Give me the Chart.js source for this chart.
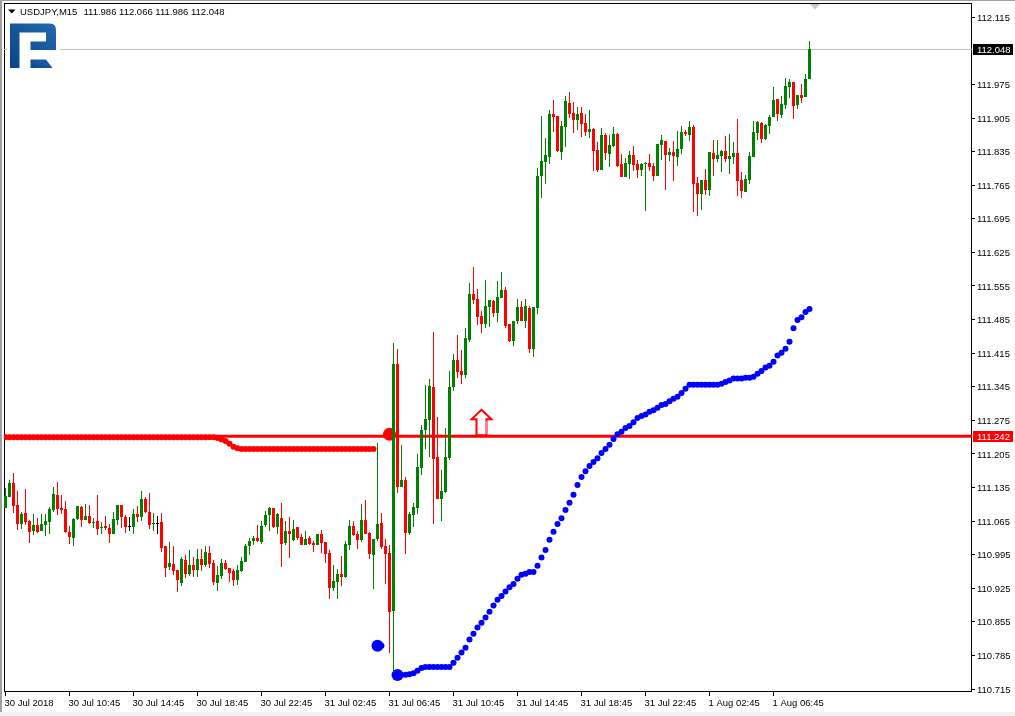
<!DOCTYPE html>
<html>
<head>
<meta charset="utf-8">
<title>USDJPY,M15</title>
<script src="https://cdn.jsdelivr.net/npm/chart.js@4/dist/chart.umd.min.js"></script>
<style>
  html, body { margin: 0; padding: 0; background: #fff; overflow: hidden; }
  #wrap { position: relative; width: 1015px; height: 716px; }
  canvas { position: absolute; left: 0; top: 0; }
  .edge { position: absolute; }
  #logo { position: absolute; left: 0; top: 0; }
</style>
</head>
<body>
<div id="wrap">
  <canvas id="chart" width="1015" height="716"></canvas>
  <div class="edge" style="left:0;top:0;width:2px;height:716px;background:#a0a0a0"></div>
  <div class="edge" style="left:0;top:0;width:1015px;height:1px;background:#a0a0a0"></div>
  <div class="edge" style="left:0;top:712px;width:1015px;height:4px;background:#f0f0f0"></div>
  <svg id="logo" width="70" height="80">
    <defs>
      <linearGradient id="logoBlue" x1="1" y1="0" x2="0" y2="1">
        <stop offset="0" stop-color="#2468ae"/>
        <stop offset="1" stop-color="#0a4488"/>
      </linearGradient>
    </defs>
    <rect x="7" y="20" width="53" height="50" fill="#fff"/>
    <path fill="url(#logoBlue)" d="M10 23.5H50Q56 23.5 56 30V50H30.5V41.5H46V32.5H19.5V68H10Z"/>
    <path fill="url(#logoBlue)" d="M30.5 59.5H46L52.5 68H30.5Z"/>
  </svg>
</div>
<script>
const symbolTitle = "USDJPY,M15";
const titleValues = "111.986 112.066 111.986 112.048";

const opens = [
  111.092,111.115,111.145,111.099,111.059,111.082,111.065,111.044,111.057,111.044,
  111.057,111.063,111.088,111.120,111.092,111.090,111.042,111.030,111.069,111.094,
  111.067,111.076,111.061,111.065,111.050,111.055,111.050,111.038,111.067,111.099,
  111.074,111.054,111.053,111.080,111.074,111.111,111.084,111.059,111.062,111.063,
  111.013,110.969,110.975,110.963,110.936,110.984,110.955,110.973,110.963,110.986,
  110.973,110.999,110.978,110.936,110.951,110.978,110.967,110.961,110.942,110.961,
  110.980,111.013,111.024,111.030,111.022,111.057,111.078,111.092,111.053,111.071,
  111.020,111.044,111.026,111.053,111.032,111.015,111.030,111.020,111.015,111.038,
  111.022,110.999,110.925,110.938,110.955,110.948,111.015,111.055,111.038,111.026,
  111.067,111.040,110.994,111.028,111.061,111.013,110.999,110.877,111.392,111.136,
  111.151,111.040,111.078,111.092,111.176,111.255,111.276,111.344,111.198,111.111,
  111.126,111.196,111.344,111.401,111.378,111.369,111.442,111.538,111.528,111.492,
  111.476,111.511,111.524,111.499,111.530,111.547,111.476,111.440,111.482,111.511,
  111.482,111.509,111.424,111.509,111.784,111.813,111.824,111.913,111.909,111.834,
  111.886,111.936,111.915,111.901,111.915,111.895,111.876,111.882,111.838,111.797,
  111.870,111.830,111.847,111.872,111.809,111.782,111.809,111.828,111.809,111.797,
  111.809,111.811,111.805,111.784,111.849,111.857,111.828,111.834,111.824,111.840,
  111.876,111.870,111.886,111.770,111.747,111.776,111.755,111.832,111.820,111.826,
  111.836,111.820,111.824,111.832,111.776,111.751,111.776,111.824,111.874,111.895,
  111.861,111.888,111.907,111.945,111.911,111.932,111.970,111.980,111.932,111.953,
  111.949,111.986
];
const highs = [
  111.134,111.151,111.165,111.128,111.084,111.132,111.067,111.080,111.071,111.080,
  111.080,111.094,111.136,111.147,111.120,111.107,111.055,111.071,111.096,111.096,
  111.101,111.099,111.071,111.120,111.063,111.076,111.059,111.084,111.099,111.099,
  111.078,111.074,111.090,111.096,111.128,111.115,111.124,111.082,111.076,111.082,
  111.013,111.022,111.013,110.963,110.990,110.994,111.005,110.990,111.007,111.007,
  111.013,111.013,110.984,110.971,110.986,110.984,110.967,110.965,110.973,110.990,
  111.018,111.030,111.034,111.057,111.065,111.086,111.094,111.092,111.082,111.103,
  111.065,111.074,111.067,111.053,111.038,111.044,111.034,111.024,111.038,111.046,
  111.022,111.005,110.973,110.965,110.992,111.024,111.067,111.065,111.044,111.101,
  111.109,111.042,111.028,111.228,111.082,111.028,111.015,111.436,111.424,111.224,
  111.157,111.084,111.103,111.205,111.265,111.349,111.361,111.459,111.282,111.171,
  111.259,111.378,111.413,111.453,111.422,111.467,111.561,111.595,111.549,111.503,
  111.567,111.526,111.526,111.565,111.584,111.553,111.476,111.482,111.528,111.524,
  111.528,111.513,111.511,111.801,111.909,111.863,111.922,111.943,111.909,111.899,
  111.951,111.959,111.938,111.928,111.928,111.913,111.922,111.884,111.855,111.884,
  111.874,111.870,111.886,111.874,111.830,111.822,111.836,111.847,111.818,111.811,
  111.813,111.830,111.811,111.851,111.870,111.857,111.842,111.857,111.878,111.888,
  111.880,111.899,111.890,111.782,111.776,111.799,111.834,111.859,111.859,111.838,
  111.868,111.872,111.855,111.903,111.793,111.786,111.834,111.899,111.899,111.897,
  111.893,111.911,111.970,111.945,111.951,111.988,111.986,111.980,111.953,111.976,
  111.997,112.066
];
const lows = [
  111.092,111.115,111.082,111.046,111.048,111.057,111.020,111.036,111.040,111.044,
  111.034,111.038,111.084,111.078,111.080,111.040,111.018,111.013,111.067,111.053,
  111.067,111.059,111.050,111.036,111.038,111.046,111.020,111.038,111.057,111.050,
  111.040,111.044,111.038,111.063,111.065,111.082,111.048,111.044,111.038,111.001,
  110.948,110.963,110.953,110.917,110.930,110.947,110.951,110.948,110.948,110.961,
  110.969,110.967,110.932,110.919,110.944,110.963,110.938,110.930,110.932,110.959,
  110.980,110.994,111.015,111.022,111.018,111.053,111.044,111.050,111.038,110.969,
  111.015,110.988,111.024,111.026,111.015,111.015,111.015,111.001,111.015,110.999,
  110.978,110.902,110.919,110.902,110.930,110.946,111.005,111.034,111.007,111.022,
  111.038,110.986,110.923,111.024,111.007,110.934,110.790,110.750,111.124,111.136,
  110.996,111.036,111.053,111.080,111.161,111.215,111.198,111.059,111.111,111.065,
  111.124,111.192,111.336,111.363,111.351,111.363,111.438,111.517,111.474,111.457,
  111.467,111.469,111.490,111.480,111.530,111.467,111.438,111.430,111.476,111.482,
  111.467,111.415,111.407,111.497,111.738,111.768,111.809,111.876,111.834,111.818,
  111.845,111.905,111.874,111.880,111.865,111.868,111.863,111.795,111.793,111.797,
  111.818,111.803,111.845,111.803,111.782,111.782,111.778,111.795,111.780,111.784,
  111.711,111.795,111.774,111.784,111.818,111.755,111.815,111.774,111.805,111.830,
  111.868,111.857,111.709,111.701,111.713,111.745,111.743,111.784,111.813,111.793,
  111.813,111.788,111.809,111.743,111.738,111.751,111.767,111.824,111.859,111.853,
  111.859,111.872,111.907,111.899,111.905,111.924,111.947,111.903,111.924,111.936,
  111.949,111.986
];
const closes = [
  111.117,111.145,111.096,111.059,111.080,111.063,111.042,111.057,111.042,111.059,
  111.065,111.090,111.122,111.090,111.088,111.042,111.032,111.069,111.096,111.067,
  111.076,111.061,111.063,111.048,111.053,111.050,111.038,111.069,111.099,111.074,
  111.053,111.054,111.080,111.074,111.111,111.084,111.057,111.061,111.062,111.009,
  110.967,110.978,110.961,110.942,110.986,110.955,110.973,110.963,110.986,110.973,
  111.001,110.975,110.938,110.953,110.978,110.965,110.957,110.942,110.963,110.982,
  111.013,111.024,111.030,111.024,111.055,111.078,111.092,111.053,111.080,111.018,
  111.044,111.038,111.048,111.030,111.015,111.028,111.018,111.015,111.038,111.020,
  110.996,110.925,110.940,110.955,110.948,111.018,111.055,111.036,111.026,111.067,
  111.038,110.996,111.028,111.059,111.011,110.996,110.875,111.392,111.136,111.151,
  111.040,111.080,111.094,111.178,111.255,111.278,111.347,111.194,111.111,111.128,
  111.198,111.344,111.401,111.376,111.369,111.447,111.538,111.526,111.490,111.476,
  111.513,111.526,111.499,111.532,111.547,111.472,111.440,111.482,111.511,111.482,
  111.513,111.424,111.511,111.784,111.815,111.828,111.913,111.907,111.836,111.888,
  111.941,111.913,111.901,111.913,111.892,111.876,111.882,111.836,111.797,111.870,
  111.832,111.849,111.872,111.805,111.782,111.811,111.828,111.807,111.797,111.809,
  111.811,111.803,111.784,111.851,111.859,111.828,111.834,111.826,111.840,111.876,
  111.872,111.886,111.767,111.747,111.776,111.755,111.834,111.820,111.828,111.836,
  111.820,111.826,111.832,111.774,111.753,111.778,111.826,111.876,111.897,111.861,
  111.890,111.907,111.943,111.913,111.934,111.972,111.980,111.930,111.953,111.947,
  111.986,112.048
];

// red indicator: bars 0-92, then the single big point
const redDots = [
  111.240,111.240,111.240,111.240,111.240,111.240,111.240,111.240,111.240,111.240,
  111.240,111.240,111.240,111.240,111.240,111.240,111.240,111.240,111.240,111.240,
  111.240,111.240,111.240,111.240,111.240,111.240,111.240,111.240,111.240,111.240,
  111.240,111.240,111.240,111.240,111.240,111.240,111.240,111.240,111.240,111.240,
  111.240,111.240,111.240,111.240,111.240,111.240,111.240,111.240,111.240,111.240,
  111.240,111.240,111.240,111.238,111.235,111.232,111.226,111.220,111.217,111.215,
  111.215,111.215,111.215,111.215,111.215,111.215,111.215,111.215,111.215,111.215,
  111.215,111.215,111.215,111.215,111.215,111.215,111.215,111.215,111.215,111.215,
  111.215,111.215,111.215,111.215,111.215,111.215,111.215,111.215,111.215,111.215,
  111.215,111.215,111.215
];
const redBigIndex = 96;
const redBigValue = 111.246;

// blue indicator: first pair starts at bar 93, main run at bar 98
const blueFirstIndex = 93;
const blueFirst = [110.805, 110.805];
const blueStartIndex = 98;
const blueDots = [
  110.744,110.744,110.745,110.746,110.748,110.753,110.759,110.761,110.761,110.761,
  110.761,110.761,110.761,110.761,110.770,110.780,110.791,110.801,110.818,110.830,
  110.843,110.853,110.864,110.876,110.889,110.901,110.909,110.918,110.927,110.934,
  110.945,110.953,110.955,110.959,110.959,110.972,110.989,111.005,111.026,111.043,
  111.059,111.071,111.088,111.103,111.120,111.140,111.157,111.169,111.180,111.188,
  111.196,111.207,111.215,111.224,111.236,111.246,111.251,111.259,111.263,111.271,
  111.280,111.284,111.287,111.293,111.296,111.301,111.307,111.309,111.315,111.320,
  111.324,111.332,111.341,111.349,111.349,111.349,111.349,111.349,111.349,111.349,
  111.349,111.351,111.355,111.358,111.362,111.362,111.362,111.364,111.364,111.366,
  111.372,111.378,111.385,111.389,111.397,111.410,111.416,111.424,111.439,111.467,
  111.484,111.490,111.501,111.507
];

const bidLevel = 112.048;
const signalLevel = 111.242;
const arrowIndex = 119;
const arrowTip = 111.299;

const priceTicks = [
  112.115,111.975,111.905,111.835,111.765,111.695,111.625,111.555,111.485,111.415,
  111.345,111.275,111.205,111.135,111.065,110.995,110.925,110.855,110.785,110.715
];
const timeTickStep = 16;
const timeTicks = [
  "30 Jul 2018","30 Jul 10:45","30 Jul 14:45","30 Jul 18:45","30 Jul 22:45",
  "31 Jul 02:45","31 Jul 06:45","31 Jul 10:45","31 Jul 14:45","31 Jul 18:45",
  "31 Jul 22:45","1 Aug 02:45","1 Aug 06:45"
];

const FONT = '"Liberation Sans", Arial, sans-serif';
const FONT_SIZE = 9.5;

function candleColor(i) {
  if (closes[i] > opens[i]) return "#008000";
  if (closes[i] < opens[i]) return "#ff0000";
  return "#000000";
}

const colors = closes.map((c, i) => candleColor(i));

// MT4 draws candles on whole pixels, so round the bar ends after layout
const snapBars = {
  id: "snapBars",
  afterDatasetsUpdate(chart) {
    chart.data.datasets.forEach((ds, n) => {
      if (ds.type !== "bar") return;
      chart.getDatasetMeta(n).data.forEach((el) => {
        el.y = Math.round(el.y);
        el.base = Math.round(el.base);
        if (el.y === el.base) el.base = el.y + 1;
      });
    });
  },
};

// labels must not push the plot area in
function noMargins(axis) {
  axis.paddingLeft = 0;
  axis.paddingRight = 0;
  axis.paddingTop = 0;
  axis.paddingBottom = 0;
}

const frame = {
  id: "frame",
  beforeDatasetsDraw(chart) {
    const { ctx, chartArea: a } = chart;
    ctx.save();
    ctx.strokeStyle = "#000";
    ctx.lineWidth = 1;
    ctx.strokeRect(a.left + 0.5, a.top + 0.5, a.right - a.left - 1, a.bottom - a.top - 1);
    ctx.restore();
  },
  afterDatasetsDraw(chart) {
    const { ctx, scales } = chart;
    const ax = scales.x.getPixelForValue(arrowIndex);
    const ay = scales.y.getPixelForValue(arrowTip);
    ctx.save();
    // signal arrow
    ctx.beginPath();
    ctx.moveTo(ax, ay + 1);
    ctx.lineTo(ax + 10, ay + 10.5);
    ctx.lineTo(ax + 5, ay + 10.5);
    ctx.lineTo(ax + 5, ay + 26.5);
    ctx.lineTo(ax - 5, ay + 26.5);
    ctx.lineTo(ax - 5, ay + 10.5);
    ctx.lineTo(ax - 10, ay + 10.5);
    ctx.closePath();
    ctx.fillStyle = "#fff";
    ctx.fill();
    ctx.strokeStyle = "#ff0000";
    ctx.lineWidth = 2;
    ctx.stroke();
    ctx.strokeStyle = "#ff7fb0";
    ctx.lineWidth = 1.6;
    ctx.beginPath();
    ctx.moveTo(ax + 5, ay + 12);
    ctx.lineTo(ax + 5, ay + 25);
    ctx.stroke();

    // chart shift marker
    ctx.fillStyle = "#c8c8c8";
    ctx.beginPath();
    ctx.moveTo(810, 4);
    ctx.lineTo(820, 4);
    ctx.lineTo(815, 9.5);
    ctx.closePath();
    ctx.fill();

    // header
    ctx.fillStyle = "#000";
    ctx.beginPath();
    ctx.moveTo(8, 9.5);
    ctx.lineTo(15.5, 9.5);
    ctx.lineTo(11.75, 13.5);
    ctx.closePath();
    ctx.fill();
    ctx.font = FONT_SIZE + "px " + FONT;
    ctx.textBaseline = "middle";
    ctx.textAlign = "left";
    ctx.fillText(symbolTitle, 20, 12);
    ctx.fillText(titleValues, 83.5, 12);

    // price tags
    [[bidLevel, "#000000"], [signalLevel, "#ff0000"]].forEach(([v, bg]) => {
      const y = Math.round(scales.y.getPixelForValue(v));
      ctx.fillStyle = bg;
      ctx.fillRect(973, y - 5, 40, 11);
      ctx.fillStyle = "#fff";
      ctx.fillText(v.toFixed(3), 977, y + 1);
    });
    ctx.restore();
  },
};

document.addEventListener("DOMContentLoaded", function () {
  const ctx = document.getElementById("chart").getContext("2d");
  const xMin = -0.375;
  const xMax = 241.625;

  const redPoints = redDots.map((v, i) => ({ x: i, y: v }));
  redPoints.push({ x: redBigIndex, y: redBigValue });
  const bluePoints = blueFirst
    .map((v, i) => ({ x: blueFirstIndex + i, y: v }))
    .concat(blueDots.map((v, i) => ({ x: blueStartIndex + i, y: v })));

  new Chart(ctx, {
    type: "bar",
    data: {
      datasets: [
        {
          type: "line",
          label: "bid",
          data: [{ x: xMin, y: bidLevel }, { x: xMax, y: bidLevel }],
          borderColor: "#c0c0c0",
          borderWidth: 1,
          pointRadius: 0,
          order: 6,
        },
        {
          type: "line",
          label: "signal",
          data: [{ x: xMin, y: signalLevel }, { x: xMax, y: signalLevel }],
          borderColor: "#ff0000",
          borderWidth: 3,
          pointRadius: 0,
          order: 5,
        },
        {
          type: "line",
          label: "red",
          data: redPoints,
          showLine: false,
          backgroundColor: "#ff0000",
          borderWidth: 0,
          pointRadius: (c) => (c.raw && c.raw.x === redBigIndex ? 6.5 : 3),
          order: 4,
        },
        {
          type: "line",
          label: "blue",
          data: bluePoints,
          showLine: false,
          backgroundColor: "#0000ff",
          borderWidth: 0,
          pointRadius: (c) => (c.raw && (c.raw.x === blueFirstIndex || c.raw.x === blueStartIndex) ? 6 : 3),
          order: 3,
        },
        {
          type: "bar",
          label: "wick",
          data: highs.map((h, i) => ({ x: i, y: [lows[i], h] })),
          backgroundColor: colors,
          barThickness: 1,
          maxBarThickness: 1,
          grouped: false,
          inflateAmount: 0,
          borderWidth: 0,
          order: 2,
        },
        {
          type: "bar",
          label: "body",
          data: opens.map((o, i) => ({ x: i, y: [o, closes[i]] })),
          backgroundColor: colors,
          barThickness: 3,
          maxBarThickness: 3,
          grouped: false,
          inflateAmount: 0,
          borderWidth: 0,
          order: 1,
        },
      ],
    },
    plugins: [snapBars, frame],
    options: {
      responsive: false,
      animation: false,
      layout: { autoPadding: false, padding: { left: 4, top: 3 } },
      plugins: {
        legend: { display: false },
        tooltip: { enabled: false },
        title: { display: false },
      },
      scales: {
        x: {
          type: "linear",
          min: xMin,
          max: xMax,
          offset: false,
          border: { display: false },
          grid: { offset: false, drawOnChartArea: false, drawTicks: true, tickLength: 4, tickColor: "#000" },
          afterBuildTicks: (axis) => {
            axis.ticks = timeTicks.map((t, i) => ({ value: i * timeTickStep }));
          },
          afterFit: (axis) => {
            axis.height = 24;
            noMargins(axis);
          },
          ticks: {
            autoSkip: false,
            maxRotation: 0,
            align: "start",
            padding: 2,
            labelOffset: -1,
            color: "#000",
            font: { family: FONT, size: FONT_SIZE },
            callback: (v) => timeTicks[Math.round(v / timeTickStep)],
          },
        },
        y: {
          type: "linear",
          position: "right",
          min: 110.7088,
          max: 112.1448,
          border: { display: false },
          grid: { drawOnChartArea: false, drawTicks: true, tickLength: 3, tickColor: "#000" },
          afterBuildTicks: (axis) => {
            axis.ticks = priceTicks.map((v) => ({ value: v }));
          },
          afterFit: (axis) => {
            axis.width = 43;
            noMargins(axis);
          },
          ticks: {
            autoSkip: false,
            padding: 2,
            labelOffset: 1,
            color: "#000",
            font: { family: FONT, size: FONT_SIZE },
            callback: (v) => v.toFixed(3),
          },
        },
      },
    },
  });
});
</script>
</body>
</html>
